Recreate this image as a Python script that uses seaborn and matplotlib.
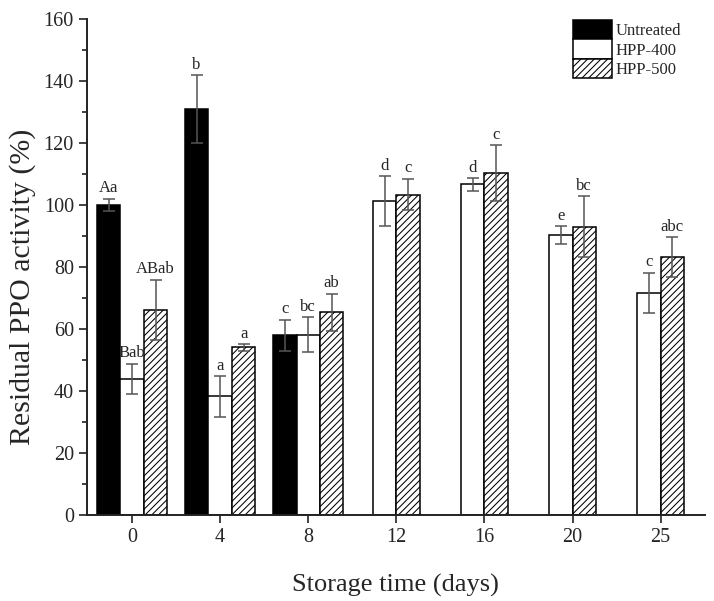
import numpy as np
import pandas as pd
import matplotlib
matplotlib.use("Agg")
import matplotlib.pyplot as plt
from matplotlib.ticker import MultipleLocator
import seaborn as sns

# ── Data ──────────────────────────────────────────────────────────────────────

DAYS = ["0", "4", "8", "12", "16", "20", "25"]
HUES = ["Untreated", "HPP-400", "HPP-500"]

untreated_mean = [100.0, 131.0, 58.0, np.nan, np.nan, np.nan, np.nan]
untreated_sd   = [2.0, 11.0, 5.0, np.nan, np.nan, np.nan, np.nan]
untreated_lab  = ["Aa", "b", "c", "", "", "", ""]

hpp400_mean = [44.0, 38.3, 58.2, 101.3, 106.7, 90.4, 71.7]
hpp400_sd   = [4.8, 6.5, 5.7, 8.0, 2.0, 2.8, 6.5]
hpp400_lab  = ["Bab", "a", "bc", "d", "d", "e", "c"]

hpp500_mean = [66.2, 54.1, 65.4, 103.4, 110.4, 93.1, 83.2]
hpp500_sd   = [9.7, 1.1, 6.0, 5.1, 9.0, 9.8, 6.4]
hpp500_lab  = ["ABab", "a", "ab", "c", "c", "bc", "abc"]

# ── Style ─────────────────────────────────────────────────────────────────────

sns.set_theme(style="ticks")
plt.rcParams["font.family"] = ["Liberation Serif", "DejaVu Serif"]
plt.rcParams["hatch.linewidth"] = 0.75
plt.rcParams["hatch.color"] = "#444444"

# ── Long table ────────────────────────────────────────────────────────────────

rows = []
for hue, means, sds, labs in [("Untreated", untreated_mean, untreated_sd, untreated_lab),
                              ("HPP-400", hpp400_mean, hpp400_sd, hpp400_lab),
                              ("HPP-500", hpp500_mean, hpp500_sd, hpp500_lab)]:
    for d, m, s, l in zip(DAYS, means, sds, labs):
        if not np.isnan(m):
            rows.append({"day": d, "treatment": hue, "value": m, "sd": s, "letter": l})
df = pd.DataFrame(rows)
lookup = {(r.treatment, r.day): (r.value, r.sd, r.letter) for r in df.itertuples()}

early = df[df["day"].isin(["0", "4", "8"])]
late  = df[~df["day"].isin(["0", "4", "8"])]

palette = {"Untreated": "black", "HPP-400": "white", "HPP-500": "white"}

fig, ax = plt.subplots(figsize=(7.14, 6.01), dpi=100)
fig.subplots_adjust(left=0.122, right=0.987, bottom=0.143, top=0.968)

sns.barplot(data=early, x="day", y="value", hue="treatment", order=DAYS,
            hue_order=HUES, palette=palette, saturation=1, width=0.8,
            errorbar=None, edgecolor="black", linewidth=1.1, legend=False, ax=ax)
n_first = len(ax.containers)
sns.barplot(data=late, x="day", y="value", hue="treatment", order=DAYS,
            hue_order=HUES[1:], palette=palette, saturation=1, width=0.8 * 2 / 3,
            errorbar=None, edgecolor="black", linewidth=1.1, legend=False, ax=ax)

hue_seq = HUES + HUES[1:]
for cont, hue in zip(ax.containers, hue_seq):
    for bar in cont:
        xc = bar.get_x() + bar.get_width() / 2
        day = DAYS[int(round(xc))]
        if (hue, day) not in lookup:
            continue
        m, s, lab = lookup[(hue, day)]
        if hue == "HPP-500":
            bar.set_hatch("/////")
        ax.errorbar(xc, m, yerr=s, fmt="none", ecolor="#555555",
                    elinewidth=1.1, capsize=4, capthick=1.1, zorder=4)
        ax.text(xc, m + s + 0.8, lab, ha="center", va="bottom", fontsize=12)

# ── Axes ──────────────────────────────────────────────────────────────────────

ax.set_ylim(0, 160)
ax.set_xlim(-0.51, 6.5)
ax.yaxis.set_major_locator(MultipleLocator(20))
ax.yaxis.set_minor_locator(MultipleLocator(10))
ax.tick_params(axis="both", which="major", direction="out", length=6, width=1.2,
               labelsize=14.5, color="#222222")
ax.tick_params(axis="y", which="minor", direction="out", length=3.5, width=1.2,
               color="#222222")
sns.despine(ax=ax)
for sp in ["left", "bottom"]:
    ax.spines[sp].set_linewidth(1.4)
    ax.spines[sp].set_color("#222222")

ax.set_xlabel("Storage time (days)", fontsize=19, labelpad=19)
ax.set_ylabel("Residual PPO activity (%)", fontsize=21.5)
ax.yaxis.set_label_coords(-0.083, 0.461)

handles = [ax.containers[i] for i in range(n_first)]
ax.legend(handles=handles, labels=HUES, loc="upper left",
          bbox_to_anchor=(0.787, 0.998), frameon=False, fontsize=12,
          handlelength=2.3, handleheight=1.4, labelspacing=0.0,
          handletextpad=0.25, borderpad=0, borderaxespad=0)

plt.savefig("out.png", dpi=100)
plt.close()
